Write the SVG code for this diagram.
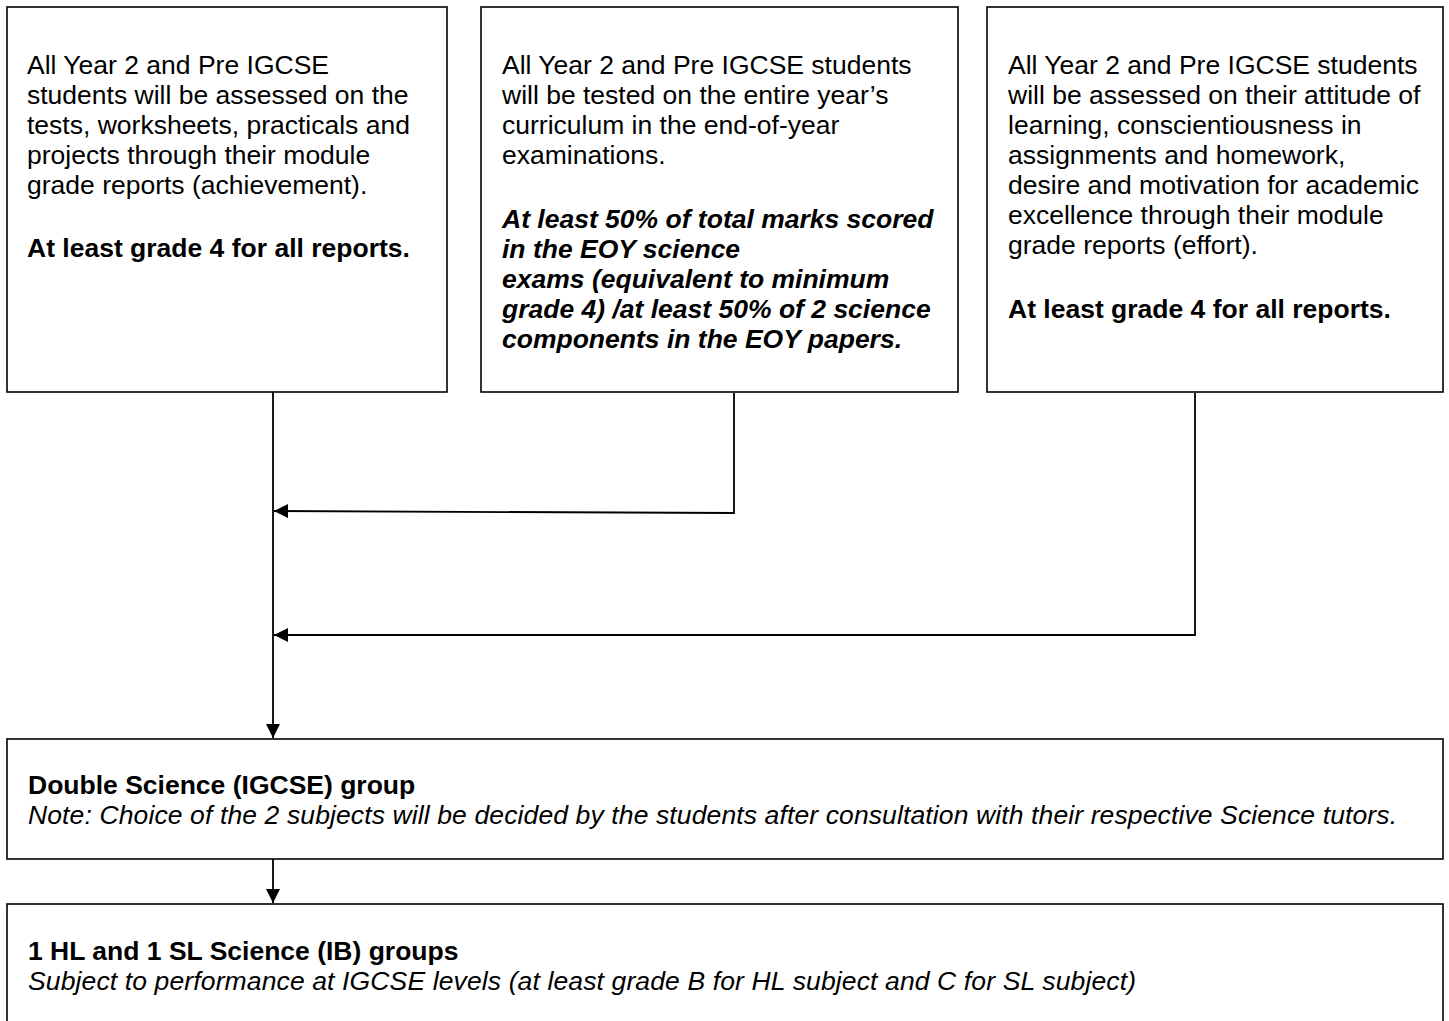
<svg xmlns="http://www.w3.org/2000/svg" width="1449" height="1021" viewBox="0 0 1449 1021">
<style>
.box{fill:#fff;stroke:#000;stroke-width:1.6}
.t{font-family:"Liberation Sans",Arial,sans-serif;font-size:26.5px;fill:#000}
.b{font-weight:bold}
.i{font-style:italic}
.ln{fill:none;stroke:#000;stroke-width:1.8}
</style>
<defs>
<marker id="ah" viewBox="0 0 10 10" refX="10" refY="5" markerWidth="14" markerHeight="14" markerUnits="userSpaceOnUse" orient="auto">
<path d="M0,0 L10,5 L0,10 z" fill="#000"/>
</marker>
</defs>
<rect width="1449" height="1021" fill="#fff"/>
<g id="connectors">
<path class="ln" d="M273,392 L273,738" marker-end="url(#ah)"/>
<path class="ln" d="M734,393 L734,513 L274,511" marker-end="url(#ah)"/>
<path class="ln" d="M1195,393 L1195,635 L274,635" marker-end="url(#ah)"/>
<path class="ln" d="M273,859 L273,903" marker-end="url(#ah)"/>
</g>
<g id="box1">
<rect class="box" x="7" y="7" width="440" height="385"/>
<text class="t" x="27" y="74">All Year 2 and Pre IGCSE</text>
<text class="t" x="27" y="104">students will be assessed on the</text>
<text class="t" x="27" y="134">tests, worksheets, practicals and</text>
<text class="t" x="27" y="164">projects through their module</text>
<text class="t" x="27" y="194">grade reports (achievement).</text>
<text class="t b" x="27" y="257">At least grade 4 for all reports.</text>
</g>
<g id="box2">
<rect class="box" x="481" y="7" width="477" height="385"/>
<text class="t" x="502" y="74">All Year 2 and Pre IGCSE students</text>
<text class="t" x="502" y="104">will be tested on the entire year’s</text>
<text class="t" x="502" y="134">curriculum in the end-of-year</text>
<text class="t" x="502" y="164">examinations.</text>
<text class="t b i" x="502" y="228">At least 50% of total marks scored</text>
<text class="t b i" x="502" y="258">in the EOY science</text>
<text class="t b i" x="502" y="288">exams (equivalent to minimum</text>
<text class="t b i" x="502" y="318">grade 4) /at least 50% of 2 science</text>
<text class="t b i" x="502" y="348">components in the EOY papers.</text>
</g>
<g id="box3">
<rect class="box" x="987" y="7" width="456" height="385"/>
<text class="t" x="1008" y="74">All Year 2 and Pre IGCSE students</text>
<text class="t" x="1008" y="104">will be assessed on their attitude of</text>
<text class="t" x="1008" y="134">learning, conscientiousness in</text>
<text class="t" x="1008" y="164">assignments and homework,</text>
<text class="t" x="1008" y="194">desire and motivation for academic</text>
<text class="t" x="1008" y="224">excellence through their module</text>
<text class="t" x="1008" y="254">grade reports (effort).</text>
<text class="t b" x="1008" y="318">At least grade 4 for all reports.</text>
</g>
<g id="box4">
<rect class="box" x="7" y="739" width="1436" height="120"/>
<text class="t b" x="28" y="794">Double Science (IGCSE) group</text>
<text class="t i" x="28" y="824" textLength="1369" lengthAdjust="spacing">Note: Choice of the 2 subjects will be decided by the students after consultation with their respective Science tutors.</text>
</g>
<g id="box5">
<rect class="box" x="7" y="904" width="1436" height="140"/>
<text class="t b" x="28" y="960">1 HL and 1 SL Science (IB) groups</text>
<text class="t i" x="28" y="990" textLength="1108" lengthAdjust="spacing">Subject to performance at IGCSE levels (at least grade B for HL subject and C for SL subject)</text>
</g>
</svg>
